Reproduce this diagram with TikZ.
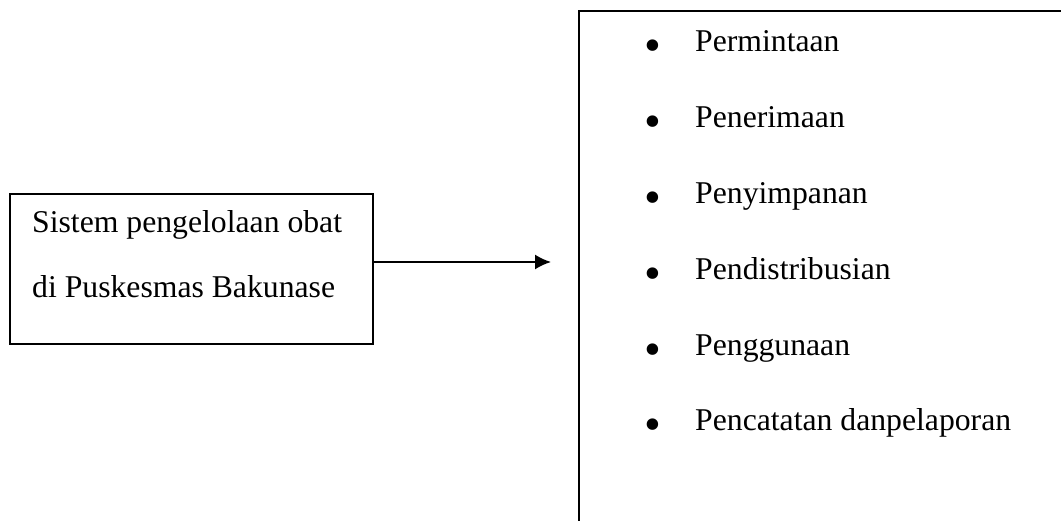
\documentclass[tikz,border=0pt]{standalone}
\usepackage{fontspec}
\setmainfont{Liberation Serif}
\usetikzlibrary{positioning,arrows.meta}

\begin{document}
\begin{tikzpicture}[
x=1pt,y=1pt,
box/.style={
  draw,
  line width=1.8pt,
  rectangle,
  inner sep=0pt
  },
txt/.style={
  font=\fontsize{31.7}{38}\selectfont,
  inner sep=0pt,
  anchor=base west
  },
dot/.style={
  font=\fontsize{48}{50}\selectfont,
  inner sep=0pt,
  anchor=center
  },
>={Latex[length=16pt,width=15pt]}
]

\useasboundingbox (0,0) rectangle (1061,520);

\node[box, minimum width=363pt, minimum height=150pt] (sys) at (191.5,251) {};
\node[txt] (sysa) at (32,287) {Sistem pengelolaan obat};
\node[txt] (sysb) at (32,222) {di Puskesmas Bakunase};

\node[box, minimum width=520pt, minimum height=540pt, anchor=north west] (list) at (578,510) {};

\foreach \item [count=\i] in {Permintaan,Penerimaan,Penyimpanan,Pendistribusian,Penggunaan,Pencatatan danpelaporan}
{
  \node[dot] (dot\i) at (653,{469-75.8*(\i-1)}) {\textbullet};
  \node[txt] (item\i) at (695,{468-75.8*(\i-1)}) {\item};
}

\coordinate (tip) at (551,258);
\draw[->, line width=1.8pt] (sys.east |- tip) -- (tip);
\end{tikzpicture}
\end{document}
